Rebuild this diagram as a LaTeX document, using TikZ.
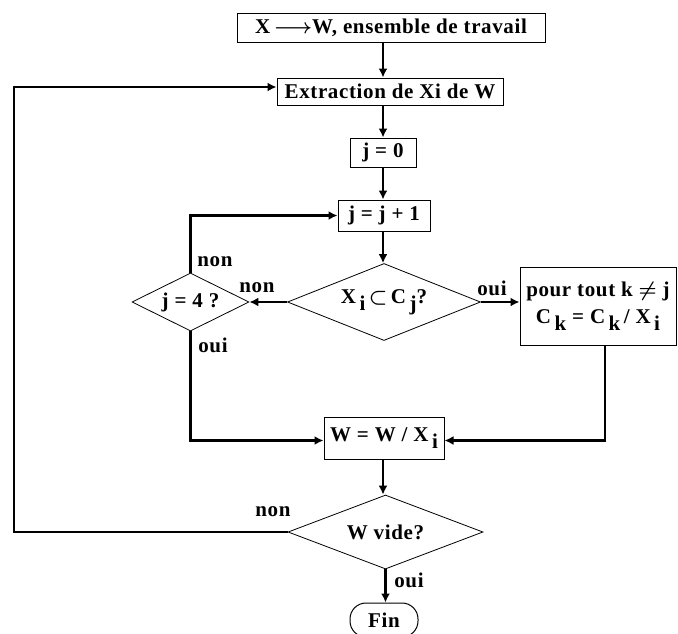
\documentclass[tikz,border=0pt]{standalone}
\usepackage{fontspec}
\setmainfont[LetterSpace=3]{Liberation Serif}
\usetikzlibrary{shapes.geometric,arrows.meta}
\newcommand{\sbx}[1]{\raisebox{-7pt}{#1}}
\begin{document}
\begin{tikzpicture}[x=1pt,y=-1pt,
  every node/.style={font=\fontsize{21}{24}\selectfont\bfseries\boldmath, inner sep=0pt},
  box/.style={draw, line width=1pt, rectangle},
  dia/.style={draw, line width=0.8pt, diamond, inner sep=0pt, shape aspect=2.5},
  conn/.style={line width=2.8pt, -{Latex[length=9pt,width=9pt]}},
  lab/.style={anchor=center}]
\useasboundingbox (0,0) rectangle (678,633);
\node[box, minimum width=308pt, minimum height=29pt] (b1) at (391,27.5) {X\,$\longrightarrow$W, ensemble de travail};
\node[box, minimum width=226pt, minimum height=27pt] (b2) at (390,91.5) {Extraction de Xi de W};
\node[box, minimum width=66pt, minimum height=29pt] (b3) at (383,152.5) {j = 0};
\node[box, minimum width=92pt, minimum height=31pt] (b4) at (384,215.5) {j = j + 1};
\node[dia, minimum width=193pt, minimum height=77pt] (d1) at (384,302) {X\,\sbx{i}\,$\subset$\,C\,\sbx{j}?};
\node[dia, minimum width=117pt, minimum height=58pt] (d2) at (190.5,302) {j = 4 ?};
\node[box, minimum width=156pt, minimum height=78pt, align=center] (b5) at (598,306)
  {pour tout k $\neq$ j\\[3pt] C\,\sbx{k} = C\,\sbx{k}\,/ X\,\sbx{i}};
\node[box, minimum width=120pt, minimum height=42pt] (b6) at (384,438.5) {W = W / X\,\sbx{i}};
\node[dia, minimum width=195pt, minimum height=74pt] (d3) at (385.5,532) {W vide?};
\node[draw, line width=1pt, rounded corners=16pt, minimum width=68pt, minimum height=34pt] (fin) at (384,620) {Fin};

\coordinate (L1) at (14,532);
\coordinate (L2) at (14,87);
\coordinate (R1) at (605,345);

\draw[conn] (b1.south -| b3) -- (b2.north -| b3);
\draw[conn] (b2.south -| b3) -- (b3.north);
\draw[conn] (b3.south) -- (b4.north -| b3);
\draw[conn] (b4.south -| b3) -- (d1.north -| b3);
\draw[conn] (d1.west) -- (d2.east);
\draw[conn] (d2.north) |- (b4.west);
\draw[conn] (d2.south) |- ([yshift=-2pt]b6.west);
\draw[conn] (d1.east) -- (b5.west |- d1.east);
\draw[conn] (R1) |- ([yshift=-2pt]b6.east);
\draw[conn] (b6.south -| b3) -- (d3.north -| b3);
\draw[conn] (d3.south) -- (fin.north -| d3.south);
\draw[conn] (d3.west) -- (L1) -- (L2) -- (b2.west |- L2);

\node[lab] (n1) at (257,288) {non};
\node[lab] (o1) at (492,288) {oui};
\node[lab] (n2) at (215,262) {non};
\node[lab] (o2) at (213,345) {oui};
\node[lab] (n3) at (273,512) {non};
\node[lab] (o3) at (409,580) {oui};
\end{tikzpicture}
\end{document}
